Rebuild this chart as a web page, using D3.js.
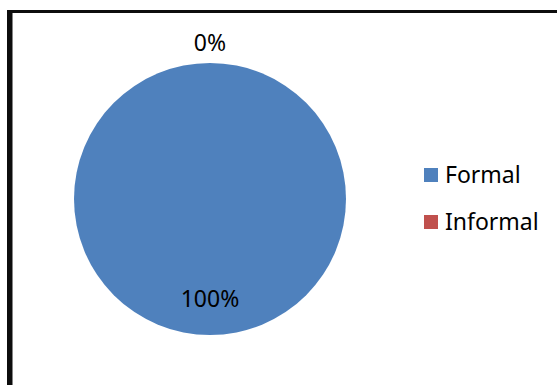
<!DOCTYPE html>
<html>
<head>
<meta charset="utf-8">
<script src="https://cdn.jsdelivr.net/npm/d3@7"></script>
<style>
  html, body { margin: 0; padding: 0; background: #fff; }
  svg { display: block; }
  text { font-family: "Noto Sans", "Open Sans", sans-serif; fill: #000; }
</style>
</head>
<body>
<svg id="chart" width="557" height="385"></svg>
<script>
// Employment type split
const categories = ["Formal", "Informal"];
const values = [100, 0];
const valueLabels = ["100%", "0%"];
const colors = ["#4f81bd", "#c0504d"];

const svg = d3.select("#chart");
const W = 557, H = 385;

// Frame: heavy left and top edges running off the page
svg.append("line").attr("x1", 9.75).attr("x2", 9.75).attr("y1", 10).attr("y2", H)
  .attr("stroke", "#0d0d0d").attr("stroke-width", 5.5);
svg.append("line").attr("x1", 7).attr("x2", W).attr("y1", 11.5).attr("y2", 11.5)
  .attr("stroke", "#0d0d0d").attr("stroke-width", 3);

// Pie
const cx = 210, cy = 199, r = 136;
const pie = d3.pie().sort(null).value(d => d).startAngle(0).endAngle(2 * Math.PI);
const arcs = pie(values);
const arc = d3.arc().innerRadius(0).outerRadius(r);

const g = svg.append("g").attr("transform", `translate(${cx},${cy})`);
g.selectAll("path.slice")
  .data(arcs)
  .join("path")
  .attr("class", "slice")
  .attr("d", arc)
  .attr("fill", (d, i) => colors[i]);

// Value labels: inside for sizeable slices, outside for empty ones
const inner = d3.arc().innerRadius(r * 0.73).outerRadius(r * 0.73);
const outer = d3.arc().innerRadius(r * 1.15).outerRadius(r * 1.15);
g.selectAll("text.val")
  .data(arcs)
  .join("text")
  .attr("class", "val")
  .attr("transform", d => {
    const p = (d.endAngle - d.startAngle) > 0.5 ? inner.centroid(d) : outer.centroid(d);
    return `translate(${p[0]},${p[1]})`;
  })
  .attr("text-anchor", "middle")
  .attr("dy", "0.36em")
  .attr("font-size", 23)
  .text((d, i) => valueLabels[i]);

// Legend
const legend = svg.append("g").attr("transform", "translate(424,168)");
const item = legend.selectAll("g")
  .data(categories)
  .join("g")
  .attr("transform", (d, i) => `translate(0,${i * 47})`);
item.append("rect")
  .attr("width", 14).attr("height", 14)
  .attr("fill", (d, i) => colors[i]);
item.append("text")
  .attr("x", 21).attr("y", 7)
  .attr("dy", "0.36em")
  .attr("font-size", 23)
  .text(d => d);
</script>
</body>
</html>
